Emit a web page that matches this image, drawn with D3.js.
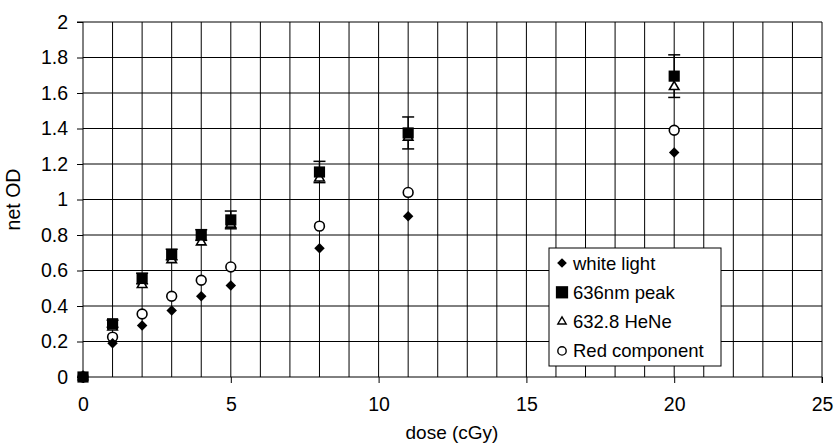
<!DOCTYPE html>
<html>
<head>
<meta charset="utf-8">
<script src="https://cdn.jsdelivr.net/npm/d3@7"></script>
<style>
  body { margin: 0; background: #fff; }
  text { font-family: "Liberation Sans", Arial, sans-serif; fill: #000; }
</style>
</head>
<body>
<script>
// size of the whole chart
var width = 834;
var height = 443;

// data
var dose = [0, 1, 2, 3, 4, 5, 8, 11, 20];
var whiteLight = [0, 0.19, 0.29, 0.375, 0.455, 0.515, 0.725, 0.905, 1.265];
var peak636 = [0, 0.30, 0.555, 0.69, 0.80, 0.885, 1.155, 1.375, 1.695];
var peak636Err = [0, 0.02, 0.03, 0.03, 0.03, 0.05, 0.06, 0.09, 0.12];
var heNe = [0, 0.28, 0.52, 0.66, 0.76, 0.86, 1.12, 1.35, 1.635];
var redComp = [0, 0.225, 0.355, 0.455, 0.545, 0.62, 0.85, 1.04, 1.39];
var seriesNames = ["white light", "636nm peak", "632.8 HeNe", "Red component"];
var xTicks = [0, 5, 10, 15, 20, 25];
var yTicks = [0, 0.2, 0.4, 0.6, 0.8, 1, 1.2, 1.4, 1.6, 1.8, 2];

var svg = d3.select("body").append("svg")
    .attr("width", width)
    .attr("height", height);

var x = d3.scaleLinear().domain([0, 25]).range([83, 822]);
var y = d3.scaleLinear().domain([0, 2]).range([377, 22]);

var g = svg.append("g");

// grid lines, one per cGy and per 0.2
g.selectAll(".vgrid")
    .data(d3.range(1, 26))
    .enter().append("line")
    .attr("x1", function(d) { return x(d); })
    .attr("x2", function(d) { return x(d); })
    .attr("y1", y(0)).attr("y2", y(2))
    .attr("stroke", "#000").attr("stroke-width", 1);

g.selectAll(".hgrid")
    .data(yTicks.slice(1))
    .enter().append("line")
    .attr("x1", x(0)).attr("x2", x(25))
    .attr("y1", function(d) { return y(d); })
    .attr("y2", function(d) { return y(d); })
    .attr("stroke", "#000").attr("stroke-width", 1);

// axes
var xAxis = d3.axisBottom(x).tickValues(xTicks).tickSize(6).tickPadding(14)
    .tickFormat(d3.format("d"));
var yAxis = d3.axisLeft(y).tickValues(yTicks).tickSize(6).tickPadding(9)
    .tickFormat(function(d) { return String(+d.toFixed(1)); });

var gx = svg.append("g").attr("transform", "translate(0," + y(0) + ")").call(xAxis);
var gy = svg.append("g").attr("transform", "translate(" + x(0) + ",0)").call(yAxis);
[gx, gy].forEach(function(a) {
  a.select(".domain").attr("stroke", "#000");
  a.selectAll(".tick line").attr("stroke", "#000");
  a.selectAll(".tick text").style("font-size", "19.5px")
    .style("font-family", "'Liberation Sans', Arial, sans-serif").attr("fill", "#000");
});
gy.select(".domain").attr("d", "M-6," + y(2) + "H0V" + y(0) + "H-6");
gx.select(".domain").attr("d", "M" + x(0) + ",6V0H" + x(25) + "V6");

svg.append("text")
    .attr("x", 452).attr("y", 439)
    .attr("text-anchor", "middle")
    .style("font-size", "19px")
    .text("dose (cGy)");

svg.append("text")
    .attr("transform", "translate(20," + y(1) + ") rotate(-90)")
    .attr("text-anchor", "middle")
    .style("font-size", "19.5px")
    .text("net OD");

// marker shapes
var diamond = d3.symbol().type(d3.symbolDiamond2).size(70);
var square = d3.symbol().type(d3.symbolSquare).size(125);
var triangle = d3.symbol().type(d3.symbolTriangle2).size(65);
var circle = d3.symbol().type(d3.symbolCircle).size(75);

function drawSeries(vals, sym, filled) {
  g.selectAll(null)
      .data(dose)
      .enter().append("path")
      .attr("transform", function(d, i) {
        return "translate(" + x(d) + "," + y(vals[i]) + ")";
      })
      .attr("d", sym)
      .attr("fill", filled ? "#000" : "#fff")
      .attr("stroke", "#000")
      .attr("stroke-width", filled ? 0 : 1.6);
}

// error bars on the 636nm peak
var eb = g.selectAll(".err")
    .data(dose)
    .enter().append("g")
    .filter(function(d, i) { return peak636Err[i] > 0; });
eb.append("line")
    .attr("x1", function(d) { return x(d); })
    .attr("x2", function(d) { return x(d); })
    .attr("y1", function(d) { return y(peak636[dose.indexOf(d)] + peak636Err[dose.indexOf(d)]); })
    .attr("y2", function(d) { return y(peak636[dose.indexOf(d)] - peak636Err[dose.indexOf(d)]); })
    .attr("stroke", "#000").attr("stroke-width", 1.5);
[1, -1].forEach(function(s) {
  eb.append("line")
      .attr("x1", function(d) { return x(d) - 6; })
      .attr("x2", function(d) { return x(d) + 6; })
      .attr("y1", function(d) { return y(peak636[dose.indexOf(d)] + s * peak636Err[dose.indexOf(d)]); })
      .attr("y2", function(d) { return y(peak636[dose.indexOf(d)] + s * peak636Err[dose.indexOf(d)]); })
      .attr("stroke", "#000").attr("stroke-width", 1.5);
});

drawSeries(redComp, circle, false);
drawSeries(whiteLight, diamond, true);
drawSeries(heNe, triangle, false);
drawSeries(peak636, square, true);

// legend
var lg = svg.append("g").attr("transform", "translate(549,248)");
lg.append("rect")
    .attr("width", 172).attr("height", 118)
    .attr("fill", "#fff").attr("stroke", "#000").attr("stroke-width", 1);

var legendSyms = [
  [d3.symbol().type(d3.symbolDiamond2).size(60), true],
  [d3.symbol().type(d3.symbolSquare).size(150), true],
  [d3.symbol().type(d3.symbolTriangle2).size(50), false],
  [d3.symbol().type(d3.symbolCircle).size(55), false]
];
seriesNames.forEach(function(name, i) {
  var cy = 15 + i * 29.3;
  lg.append("path")
      .attr("transform", "translate(13," + cy + ")")
      .attr("d", legendSyms[i][0])
      .attr("fill", legendSyms[i][1] ? "#000" : "#fff")
      .attr("stroke", "#000")
      .attr("stroke-width", legendSyms[i][1] ? 0 : 1.4);
  lg.append("text")
      .attr("x", 24).attr("y", cy + 6.5)
      .style("font-size", "18.5px")
      .text(name);
});
</script>
</body>
</html>
